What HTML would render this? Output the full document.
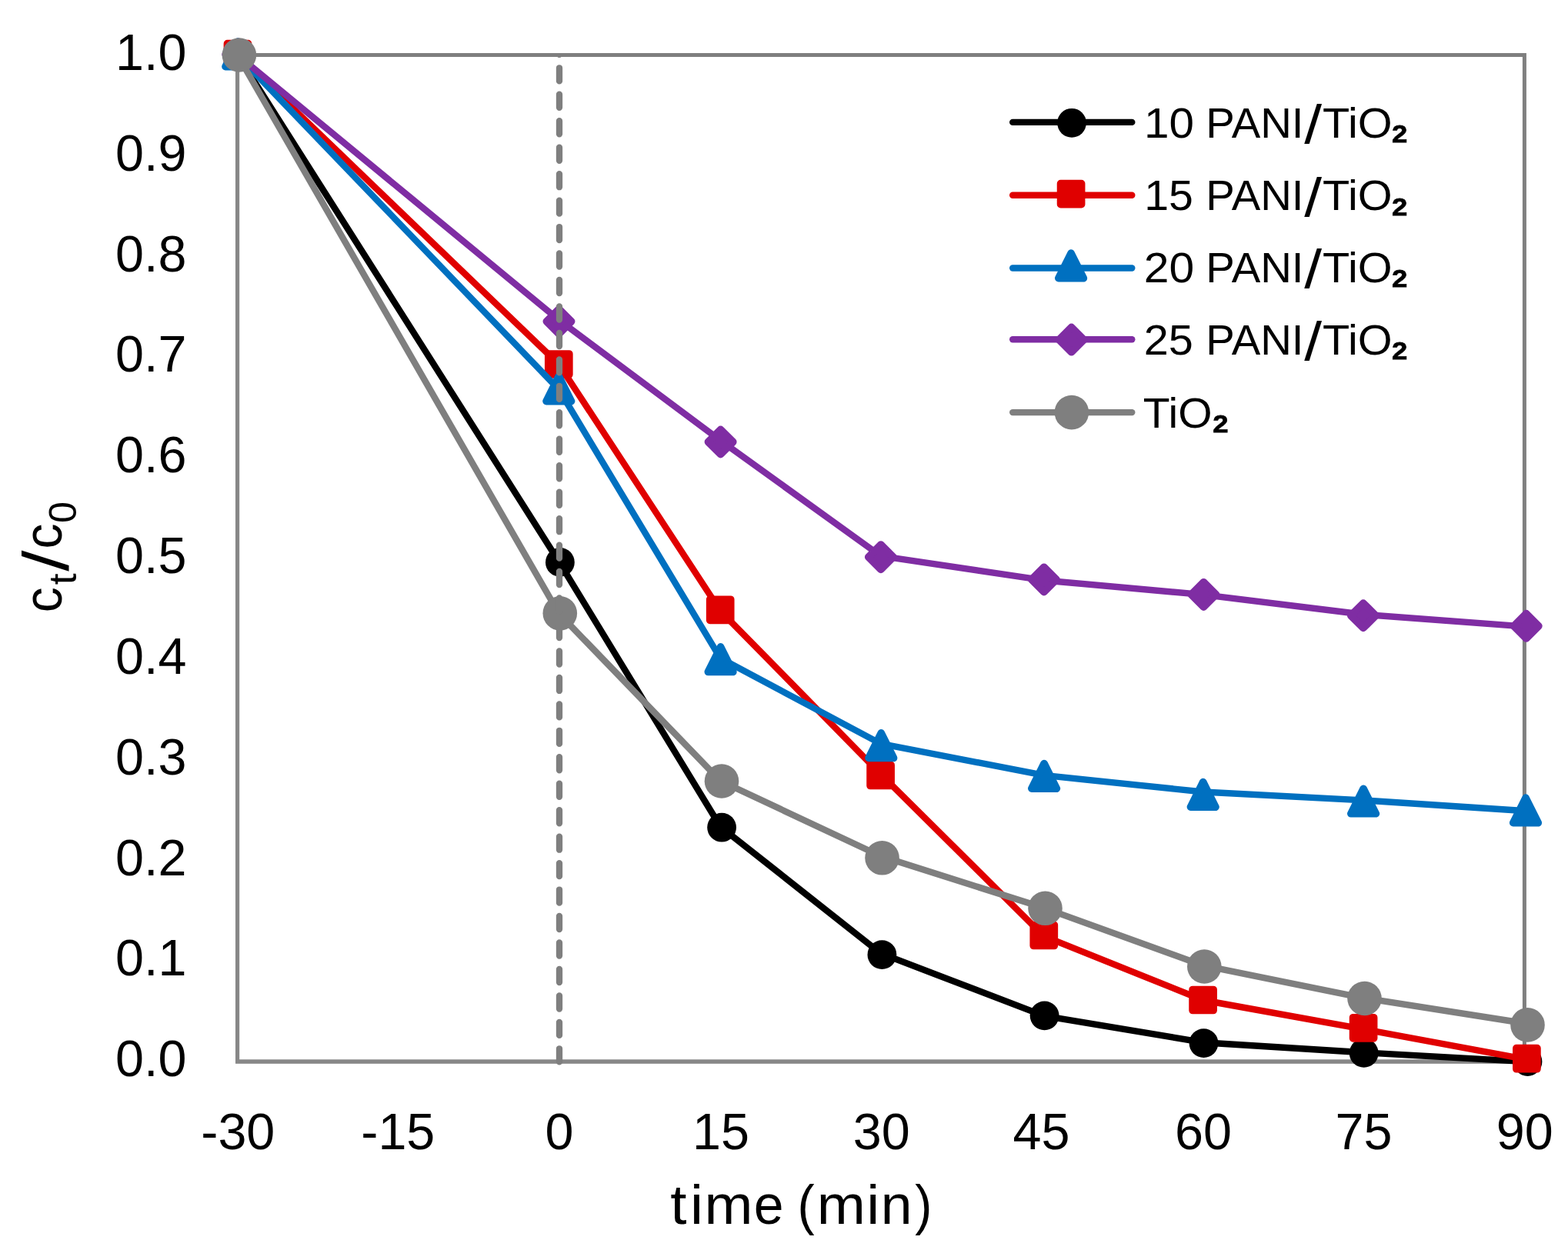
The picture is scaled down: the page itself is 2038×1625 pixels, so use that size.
<!DOCTYPE html>
<html lang="en"><head><meta charset="utf-8"><title>PANI/TiO2 photocatalytic degradation</title>
<style>html,body{margin:0;padding:0;background:#fff}body{width:2038px;height:1625px;overflow:hidden}svg{display:block}text{font-family:"Liberation Sans",sans-serif;fill:#000}</style></head><body>
<svg width="2038" height="1625" viewBox="0 0 2038 1625">
<rect width="2038" height="1625" fill="#fff"/>
<rect x="308.6" y="71.5" width="1672.8" height="1308.6" fill="none" stroke="#7F7F7F" stroke-width="5"/>
<path d="M308.6 69.0V1380.1H1983.9" fill="none" stroke="#878787" stroke-width="5"/>
<g><polyline points="308.7,71.5 726.4,730.1 936.4,1074.7 1144.9,1239.45 1357,1320.6 1563.9,1355.2 1772,1368.25 1983.6,1380.1" fill="none" stroke="#000000" stroke-width="8.4" stroke-linejoin="round" stroke-linecap="round"/>
<circle cx="309.9" cy="71.3" r="18.9" fill="#000000"/>
<circle cx="727.9" cy="730.9" r="18.9" fill="#000000"/>
<circle cx="938.1" cy="1075.7" r="18.9" fill="#000000"/>
<circle cx="1146.4" cy="1241.1" r="18.9" fill="#000000"/>
<circle cx="1357.6" cy="1320.35" r="18.9" fill="#000000"/>
<circle cx="1564.5" cy="1356.1" r="18.9" fill="#000000"/>
<circle cx="1772.7" cy="1368.9" r="18.9" fill="#000000"/>
<circle cx="1985.5" cy="1380" r="18.9" fill="#000000"/>
</g>
<g><polyline points="308.7,71.5 726.4,473.6 936.4,794.2 1144.9,1006.6 1357,1217.15 1563.9,1300.25 1772,1337.95 1983.6,1377.2" fill="none" stroke="#E00000" stroke-width="8.4" stroke-linejoin="round" stroke-linecap="round"/>
<rect x="295.45" y="56.65" width="27.1" height="27.1" fill="#E00000" stroke="#E00000" stroke-width="9.6" stroke-linejoin="round"/>
<rect x="712.75" y="459.95" width="27.1" height="27.1" fill="#E00000" stroke="#E00000" stroke-width="9.6" stroke-linejoin="round"/>
<rect x="922.65" y="779.25" width="27.1" height="27.1" fill="#E00000" stroke="#E00000" stroke-width="9.6" stroke-linejoin="round"/>
<rect x="1131.05" y="994.45" width="27.1" height="27.1" fill="#E00000" stroke="#E00000" stroke-width="9.6" stroke-linejoin="round"/>
<rect x="1343.25" y="1202.45" width="27.1" height="27.1" fill="#E00000" stroke="#E00000" stroke-width="9.6" stroke-linejoin="round"/>
<rect x="1550.05" y="1286.45" width="27.1" height="27.1" fill="#E00000" stroke="#E00000" stroke-width="9.6" stroke-linejoin="round"/>
<rect x="1758.55" y="1322.75" width="27.1" height="27.1" fill="#E00000" stroke="#E00000" stroke-width="9.6" stroke-linejoin="round"/>
<rect x="1970.85" y="1362.65" width="27.1" height="27.1" fill="#E00000" stroke="#E00000" stroke-width="9.6" stroke-linejoin="round"/>
</g>
<g><polyline points="308.7,71.5 726.4,506.3 936.4,855.8 1144.9,966.85 1357,1007.9 1563.9,1029.55 1772,1040.35 1983.6,1054.2" fill="none" stroke="#0070C0" stroke-width="8.4" stroke-linejoin="round" stroke-linecap="round"/>
<path d="M309.3 54.1L325.6 86.7L293 86.7Z" fill="#0070C0" stroke="#0070C0" stroke-width="9.6" stroke-linejoin="round"/>
<path d="M726.3 489L742.6 521.6L710 521.6Z" fill="#0070C0" stroke="#0070C0" stroke-width="9.6" stroke-linejoin="round"/>
<path d="M936.6 840.9L952.9 873.5L920.3 873.5Z" fill="#0070C0" stroke="#0070C0" stroke-width="9.6" stroke-linejoin="round"/>
<path d="M1145.3 952.8L1161.6 985.4L1129 985.4Z" fill="#0070C0" stroke="#0070C0" stroke-width="9.6" stroke-linejoin="round"/>
<path d="M1357.1 992.5L1373.4 1025.1L1340.8 1025.1Z" fill="#0070C0" stroke="#0070C0" stroke-width="9.6" stroke-linejoin="round"/>
<path d="M1563.7 1016.5L1580 1049.1L1547.4 1049.1Z" fill="#0070C0" stroke="#0070C0" stroke-width="9.6" stroke-linejoin="round"/>
<path d="M1772.1 1025.2L1788.4 1057.8L1755.8 1057.8Z" fill="#0070C0" stroke="#0070C0" stroke-width="9.6" stroke-linejoin="round"/>
<path d="M1983 1037.1L1999.3 1069.7L1966.7 1069.7Z" fill="#0070C0" stroke="#0070C0" stroke-width="9.6" stroke-linejoin="round"/>
</g>
<g><polyline points="308.7,71.5 726.4,415.9 936.4,572.6 1144.9,722.95 1357,754.45 1563.9,773.1 1772,798.75 1983.6,814.6" fill="none" stroke="#7F2DA3" stroke-width="8.4" stroke-linejoin="round" stroke-linecap="round"/>
<path d="M309.3 54.5L325.5 70.7L309.3 86.9L293.1 70.7Z" fill="#7F2DA3" stroke="#7F2DA3" stroke-width="9.6" stroke-linejoin="round"/>
<path d="M726.5 401.6L742.7 417.8L726.5 434L710.3 417.8Z" fill="#7F2DA3" stroke="#7F2DA3" stroke-width="9.6" stroke-linejoin="round"/>
<path d="M936.6 558.3L952.8 574.5L936.6 590.7L920.4 574.5Z" fill="#7F2DA3" stroke="#7F2DA3" stroke-width="9.6" stroke-linejoin="round"/>
<path d="M1144.9 708L1161.1 724.2L1144.9 740.4L1128.7 724.2Z" fill="#7F2DA3" stroke="#7F2DA3" stroke-width="9.6" stroke-linejoin="round"/>
<path d="M1356.9 737.2L1373.1 753.4L1356.9 769.6L1340.7 753.4Z" fill="#7F2DA3" stroke="#7F2DA3" stroke-width="9.6" stroke-linejoin="round"/>
<path d="M1564.4 756.7L1580.6 772.9L1564.4 789.1L1548.2 772.9Z" fill="#7F2DA3" stroke="#7F2DA3" stroke-width="9.6" stroke-linejoin="round"/>
<path d="M1771.9 784.05L1788.1 800.25L1771.9 816.45L1755.7 800.25Z" fill="#7F2DA3" stroke="#7F2DA3" stroke-width="9.6" stroke-linejoin="round"/>
<path d="M1983.7 797.65L1999.9 813.85L1983.7 830.05L1967.5 813.85Z" fill="#7F2DA3" stroke="#7F2DA3" stroke-width="9.6" stroke-linejoin="round"/>
</g>
<g><polyline points="308.7,71.5 726.4,797.5 936.4,1015.2 1144.9,1113 1357,1180.35 1563.9,1255.2 1772,1297.35 1983.6,1330.5" fill="none" stroke="#7F7F7F" stroke-width="8.4" stroke-linejoin="round" stroke-linecap="round"/>
<circle cx="310.9" cy="71.5" r="22.3" fill="#7F7F7F"/>
<circle cx="727.8" cy="797.3" r="22.3" fill="#7F7F7F"/>
<circle cx="938" cy="1015.5" r="22.3" fill="#7F7F7F"/>
<circle cx="1146.55" cy="1115.3" r="22.3" fill="#7F7F7F"/>
<circle cx="1358.5" cy="1180.8" r="22.3" fill="#7F7F7F"/>
<circle cx="1565.3" cy="1256.5" r="22.3" fill="#7F7F7F"/>
<circle cx="1773.5" cy="1298" r="22.3" fill="#7F7F7F"/>
<circle cx="1985.5" cy="1332.4" r="22.3" fill="#7F7F7F"/>
</g>
<clipPath id="plot"><rect x="308.6" y="71.5" width="1672.8" height="1314.6"/></clipPath>
<line x1="727" y1="1380.4" x2="727" y2="52" stroke="#7F7F7F" stroke-width="8.3" stroke-dasharray="17.1 17.36" stroke-linecap="round" clip-path="url(#plot)"/>
<text x="242.4" y="1399.3" font-size="66.5" text-anchor="end">0.0</text>
<text x="242.4" y="1268.46" font-size="66.5" text-anchor="end">0.1</text>
<text x="242.4" y="1137.62" font-size="66.5" text-anchor="end">0.2</text>
<text x="242.4" y="1006.78" font-size="66.5" text-anchor="end">0.3</text>
<text x="242.4" y="875.94" font-size="66.5" text-anchor="end">0.4</text>
<text x="242.4" y="745.1" font-size="66.5" text-anchor="end">0.5</text>
<text x="242.4" y="614.26" font-size="66.5" text-anchor="end">0.6</text>
<text x="242.4" y="483.42" font-size="66.5" text-anchor="end">0.7</text>
<text x="242.4" y="352.58" font-size="66.5" text-anchor="end">0.8</text>
<text x="242.4" y="221.74" font-size="66.5" text-anchor="end">0.9</text>
<text x="242.4" y="90.9" font-size="66.5" text-anchor="end">1.0</text>
<text x="309.3" y="1494.4" font-size="66.5" text-anchor="middle">-30</text>
<text x="517.3" y="1494.4" font-size="66.5" text-anchor="middle">-15</text>
<text x="726.9" y="1494.4" font-size="66.5" text-anchor="middle">0</text>
<text x="937.1" y="1494.4" font-size="66.5" text-anchor="middle">15</text>
<text x="1145.7" y="1494.4" font-size="66.5" text-anchor="middle">30</text>
<text x="1353.4" y="1494.4" font-size="66.5" text-anchor="middle">45</text>
<text x="1563.9" y="1494.4" font-size="66.5" text-anchor="middle">60</text>
<text x="1772.5" y="1494.4" font-size="66.5" text-anchor="middle">75</text>
<text x="1981.7" y="1494.4" font-size="66.5" text-anchor="middle">90</text>
<text font-size="71.5"><tspan x="871.25" y="1591.2" textLength="21.26" lengthAdjust="spacingAndGlyphs">t</tspan><tspan x="897.04" y="1591.2" textLength="17" lengthAdjust="spacingAndGlyphs">i</tspan><tspan x="915.4" y="1591.2" textLength="62.95" lengthAdjust="spacingAndGlyphs">m</tspan><tspan x="979.83" y="1591.2" textLength="58.2" lengthAdjust="spacingAndGlyphs">e </tspan><tspan x="1036.38" y="1591.2" textLength="22.14" lengthAdjust="spacingAndGlyphs">(</tspan><tspan x="1061.78" y="1591.2" textLength="63.19" lengthAdjust="spacingAndGlyphs">m</tspan><tspan x="1126.39" y="1591.2" textLength="17" lengthAdjust="spacingAndGlyphs">i</tspan><tspan x="1144.84" y="1591.2" textLength="40.83" lengthAdjust="spacingAndGlyphs">n</tspan><tspan x="1189.19" y="1591.2" textLength="22.14" lengthAdjust="spacingAndGlyphs">)</tspan></text>
<text font-size="71" transform="rotate(-90)"><tspan x="-796.3" y="79.6" textLength="33.02" lengthAdjust="spacingAndGlyphs">c</tspan><tspan x="-760.32" y="98.6" textLength="14.87" lengthAdjust="spacingAndGlyphs" font-size="50">t</tspan><tspan x="-742.79" y="89.2" textLength="27.31" lengthAdjust="spacingAndGlyphs" font-size="84">/</tspan><tspan x="-713.6" y="79.6" textLength="33.02" lengthAdjust="spacingAndGlyphs">c</tspan><tspan x="-679.92" y="98.6" textLength="28.07" lengthAdjust="spacingAndGlyphs" font-size="50">0</tspan></text>
<line x1="1316.2" y1="158.9" x2="1471.3" y2="158.9" stroke="#000000" stroke-width="8.4" stroke-linecap="round"/>
<circle cx="1393.05" cy="159.8" r="18.9" fill="#000000"/>
<text y="178.6" font-size="55.8"><tspan x="1487.12" textLength="81.25" lengthAdjust="spacingAndGlyphs">10 </tspan><tspan x="1567.25" textLength="127.24" lengthAdjust="spacingAndGlyphs">PANI</tspan><tspan x="1695.2" textLength="22.83" lengthAdjust="spacingAndGlyphs" dy="7.4" font-size="70">/</tspan><tspan x="1718.9" textLength="90.71" lengthAdjust="spacingAndGlyphs" dy="-7.4">TiO</tspan><tspan x="1807.57" textLength="23.13" lengthAdjust="spacingAndGlyphs" dy="4.4" font-weight="bold" stroke="#000" stroke-width="0.9" font-size="62">₂</tspan></text>
<line x1="1316.2" y1="253.7" x2="1471.3" y2="253.7" stroke="#E00000" stroke-width="8.4" stroke-linecap="round"/>
<rect x="1378.55" y="238.55" width="27.1" height="27.1" fill="#E00000" stroke="#E00000" stroke-width="9.6" stroke-linejoin="round"/>
<text y="273.4" font-size="55.8"><tspan x="1487.2" textLength="79.64" lengthAdjust="spacingAndGlyphs">15 </tspan><tspan x="1567.25" textLength="127.24" lengthAdjust="spacingAndGlyphs">PANI</tspan><tspan x="1695.2" textLength="22.83" lengthAdjust="spacingAndGlyphs" dy="7.4" font-size="70">/</tspan><tspan x="1718.9" textLength="90.71" lengthAdjust="spacingAndGlyphs" dy="-7.4">TiO</tspan><tspan x="1807.57" textLength="23.13" lengthAdjust="spacingAndGlyphs" dy="4.4" font-weight="bold" stroke="#000" stroke-width="0.9" font-size="62">₂</tspan></text>
<line x1="1316.2" y1="348.5" x2="1471.3" y2="348.5" stroke="#0070C0" stroke-width="8.4" stroke-linecap="round"/>
<path d="M1392.1 329.1L1408.4 361.7L1375.8 361.7Z" fill="#0070C0" stroke="#0070C0" stroke-width="9.6" stroke-linejoin="round"/>
<text y="366.6" font-size="55.8"><tspan x="1486.76" textLength="81.71" lengthAdjust="spacingAndGlyphs">20 </tspan><tspan x="1567.25" textLength="127.24" lengthAdjust="spacingAndGlyphs">PANI</tspan><tspan x="1695.2" textLength="22.83" lengthAdjust="spacingAndGlyphs" dy="7.4" font-size="70">/</tspan><tspan x="1718.9" textLength="90.71" lengthAdjust="spacingAndGlyphs" dy="-7.4">TiO</tspan><tspan x="1807.57" textLength="23.13" lengthAdjust="spacingAndGlyphs" dy="4.4" font-weight="bold" stroke="#000" stroke-width="0.9" font-size="62">₂</tspan></text>
<line x1="1316.2" y1="441.3" x2="1471.3" y2="441.3" stroke="#7F2DA3" stroke-width="8.4" stroke-linecap="round"/>
<path d="M1392.6 425.4L1408.8 441.6L1392.6 457.8L1376.4 441.6Z" fill="#7F2DA3" stroke="#7F2DA3" stroke-width="9.6" stroke-linejoin="round"/>
<text y="460.6" font-size="55.8"><tspan x="1486.82" textLength="80.14" lengthAdjust="spacingAndGlyphs">25 </tspan><tspan x="1567.25" textLength="127.24" lengthAdjust="spacingAndGlyphs">PANI</tspan><tspan x="1695.2" textLength="22.83" lengthAdjust="spacingAndGlyphs" dy="7.4" font-size="70">/</tspan><tspan x="1718.9" textLength="90.71" lengthAdjust="spacingAndGlyphs" dy="-7.4">TiO</tspan><tspan x="1807.57" textLength="23.13" lengthAdjust="spacingAndGlyphs" dy="4.4" font-weight="bold" stroke="#000" stroke-width="0.9" font-size="62">₂</tspan></text>
<line x1="1316.2" y1="536.1" x2="1471.3" y2="536.1" stroke="#7F7F7F" stroke-width="8.4" stroke-linecap="round"/>
<circle cx="1392.9" cy="536.1" r="22.3" fill="#7F7F7F"/>
<text y="556" font-size="55.8"><tspan x="1485.82" textLength="89.66" lengthAdjust="spacingAndGlyphs">TiO</tspan><tspan x="1574.77" textLength="23.13" lengthAdjust="spacingAndGlyphs" dy="4.4" font-weight="bold" stroke="#000" stroke-width="0.9" font-size="62">₂</tspan></text>
</svg></body></html>
